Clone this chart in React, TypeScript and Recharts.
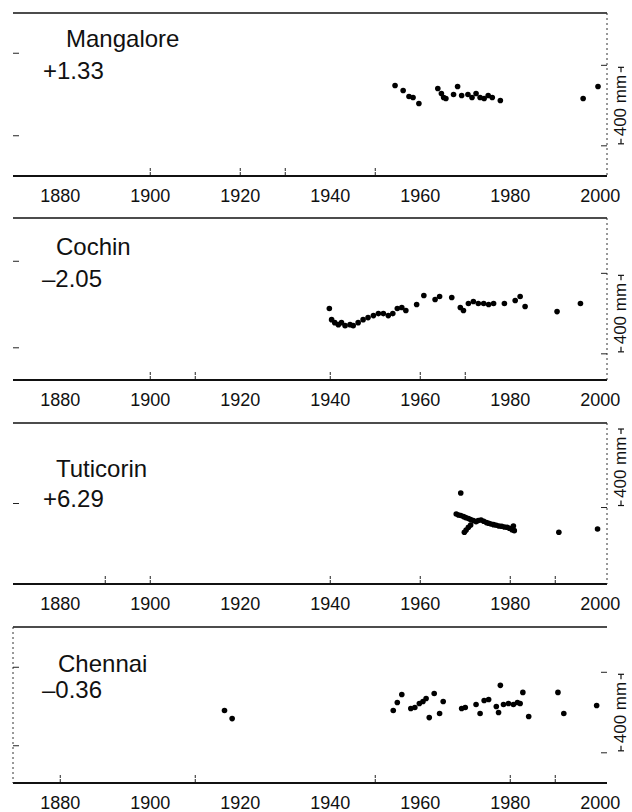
import { ReferenceLine, Scatter, ScatterChart, XAxis, YAxis } from "recharts";

const FONT = '"Liberation Sans", Arial, Helvetica, sans-serif';
const W = 632;
const X_DOMAIN: [number, number] = [1869.5, 2001.5];
const yearTicks = [1880, 1900, 1920, 1940, 1960, 1980, 2000];

// annual mean sea level, mm (relative)
const mangaloreYears = [1954.4, 1956.2, 1957.5, 1958.4, 1959.7, 1963.9, 1964.7, 1965.2, 1965.7, 1967.4, 1968.3, 1969.2, 1970.6, 1971.5, 1972.4, 1973.3, 1974.2, 1975.1, 1976.0, 1977.8, 1996.2, 1999.5];
const mangaloreLevels = [450, 425, 395, 390, 360, 435, 410, 390, 385, 405, 445, 400, 405, 390, 410, 390, 385, 400, 390, 375, 385, 445];

const cochinYears = [1939.8, 1940.3, 1941.0, 1941.8, 1942.5, 1943.3, 1944.4, 1945.1, 1946.2, 1947.3, 1948.4, 1949.6, 1950.7, 1951.8, 1952.9, 1953.9, 1954.9, 1955.9, 1956.8, 1959.2, 1960.8, 1963.3, 1964.3, 1967.0, 1968.9, 1969.6, 1970.7, 1971.8, 1972.9, 1974.1, 1975.2, 1976.3, 1978.7, 1981.1, 1982.2, 1983.3, 1990.4, 1995.6];
const cochinLevels = [355, 300, 285, 275, 285, 270, 275, 270, 285, 300, 310, 320, 330, 330, 320, 330, 355, 360, 345, 375, 420, 400, 415, 410, 360, 345, 380, 390, 380, 380, 375, 380, 380, 395, 415, 365, 340, 380];

const tuticorinYears = [1968.0, 1968.5, 1969.0, 1969.6, 1970.1, 1970.7, 1971.2, 1971.8, 1972.4, 1972.9, 1973.5, 1974.1, 1974.7, 1975.2, 1975.7, 1976.3, 1976.9, 1977.5, 1978.1, 1978.7, 1979.3, 1979.8, 1980.4, 1980.9, 1980.7, 1969.8, 1970.2, 1970.7, 1971.2, 1969.0, 1990.8, 1999.4];
const tuticorinLevels = [348, 343, 340, 335, 330, 325, 320, 315, 310, 315, 318, 312, 305, 302, 298, 295, 292, 288, 287, 283, 282, 277, 270, 265, 288, 257, 268, 282, 293, 452, 257, 273];

const chennaiYears = [1916.5, 1918.2, 1954.0, 1954.9, 1955.9, 1957.9, 1958.8, 1959.8, 1960.6, 1961.3, 1962.0, 1963.1, 1964.3, 1965.1, 1969.2, 1970.0, 1972.4, 1973.3, 1974.2, 1975.2, 1976.9, 1977.4, 1977.8, 1978.5, 1979.6, 1980.7, 1981.6, 1982.2, 1982.8, 1984.1, 1990.6, 1991.9, 1999.2];
const chennaiLevels = [360, 320, 360, 400, 440, 370, 375, 395, 405, 420, 325, 445, 345, 405, 370, 375, 390, 345, 410, 415, 380, 350, 485, 390, 395, 390, 400, 395, 450, 330, 450, 345, 385];

const panels = [
  {
    name: "Mangalore", rate: "+1.33", years: mangaloreYears, levels: mangaloreLevels,
    top: 13, axis: 175, leftTicks: [200, 610], barLow: 150, rightTicks: [150, 550],
    axisMarks: [1900, 1920, 1930, 1950], leftBorder: false, rightBorder: true,
    titleX: 66, titleY: 47, rateX: 43, rateY: 79,
  },
  {
    name: "Cochin", rate: "–2.05", years: cochinYears, levels: cochinLevels,
    top: 218, axis: 379, leftTicks: [160, 590], barLow: 130, rightTicks: [130, 530],
    axisMarks: [1900, 1910, 1940, 1960, 1970], leftBorder: false, rightBorder: true,
    titleX: 56, titleY: 255, rateX: 42, rateY: 287,
  },
  {
    name: "Tuticorin", rate: "+6.29", years: tuticorinYears, levels: tuticorinLevels,
    top: 423, axis: 583, leftTicks: [400], barLow: 380, rightTicks: [380],
    axisMarks: [1890, 1900, 1940, 1960, 1980, 1990], leftBorder: false, rightBorder: true,
    titleX: 56, titleY: 477, rateX: 43, rateY: 507,
  },
  {
    name: "Chennai", rate: "–0.36", years: chennaiYears, levels: chennaiLevels,
    top: 627, axis: 782, leftTicks: [185, 575], barLow: 150, rightTicks: [150, 550],
    axisMarks: [1880, 1910, 1950, 1980, 1990], leftBorder: true, rightBorder: false,
    titleX: 58, titleY: 672, rateX: 42, rateY: 698,
  },
];

type PanelDef = (typeof panels)[number];

const blank = () => "";

const Dot = (props: any) => <circle cx={props.cx} cy={props.cy} r={2.8} fill="#000" />;
const NoDot = () => <g />;

function ScaleBar(props: any) {
  const vb = props.viewBox || {};
  const x = (vb.x ?? 0) + 14;
  const y0 = vb.y ?? 0;
  const h = vb.height ?? 0;
  const cy = y0 + h / 2;
  return (
    <g stroke="#111" strokeWidth={1.2}>
      <line x1={x - 3} x2={x + 3} y1={y0 + 2} y2={y0 + 2} />
      <line x1={x} x2={x} y1={y0 + 2} y2={y0 + 7} />
      <line x1={x - 3} x2={x + 3} y1={y0 + h - 2} y2={y0 + h - 2} />
      <line x1={x} x2={x} y1={y0 + h - 2} y2={y0 + h - 7} />
      <text
        x={x}
        y={cy}
        transform={`rotate(-90 ${x} ${cy})`}
        textAnchor="middle"
        dominantBaseline="central"
        fontSize={17}
        fontFamily={FONT}
        fill="#111"
        stroke="none"
      >
        400 mm
      </text>
    </g>
  );
}

function Panel({ p }: { p: PanelDef }) {
  const MT = 10;
  const plotH = p.axis - p.top;
  const chartH = MT + plotH + 33;
  const yMax = plotH * 5;
  const data = p.years.map((year, i) => ({ year, level: p.levels[i] }));
  const dotted = { stroke: "#333", strokeWidth: 1, strokeDasharray: "2 3" };

  return (
    <div style={{ position: "absolute", left: 0, top: p.top - MT, width: W, height: chartH }}>
      <ScatterChart width={W} height={chartH} margin={{ top: MT, right: 25, bottom: 0, left: 13 }}>
        <XAxis
          xAxisId="marks"
          type="number"
          dataKey="year"
          domain={X_DOMAIN}
          ticks={p.axisMarks}
          mirror
          tickFormatter={blank}
          tickSize={8}
          tickLine={{ stroke: "#222", strokeDasharray: "3 1" }}
          axisLine={false}
          height={1}
        />
        <XAxis
          xAxisId="main"
          type="number"
          dataKey="year"
          domain={X_DOMAIN}
          ticks={yearTicks}
          tickLine={false}
          tickSize={0}
          tickMargin={13}
          axisLine={{ stroke: "#111", strokeWidth: 1.8 }}
          tick={{ fontSize: 18, fill: "#111", fontFamily: FONT }}
          height={32}
        />
        <YAxis
          yAxisId="l"
          type="number"
          dataKey="level"
          domain={[0, yMax]}
          ticks={p.leftTicks}
          width={1}
          mirror
          tickFormatter={blank}
          tickSize={6}
          tickLine={{ stroke: "#222" }}
          axisLine={p.leftBorder ? dotted : false}
        />
        <YAxis
          yAxisId="r"
          orientation="right"
          type="number"
          dataKey="level"
          domain={[0, yMax]}
          ticks={p.rightTicks}
          width={1}
          mirror
          tickFormatter={blank}
          tickSize={6}
          tickLine={{ stroke: "#222" }}
          axisLine={p.rightBorder ? dotted : false}
        />
        <ReferenceLine xAxisId="main" yAxisId="l" y={yMax} stroke="#111" strokeWidth={1.4} ifOverflow="visible" />
        <ReferenceLine
          xAxisId="main"
          yAxisId="l"
          segment={[
            { x: X_DOMAIN[1], y: p.barLow },
            { x: X_DOMAIN[1], y: p.barLow + 400 },
          ]}
          stroke="none"
          ifOverflow="visible"
          label={<ScaleBar />}
        />
        <Scatter
          xAxisId="marks"
          yAxisId="r"
          data={data}
          dataKey="level"
          shape={NoDot}
          isAnimationActive={false}
        />
        <Scatter
          xAxisId="main"
          yAxisId="l"
          data={data}
          dataKey="level"
          shape={Dot}
          isAnimationActive={false}
        />
      </ScatterChart>
    </div>
  );
}

export default function App() {
  return (
    <div style={{ position: "relative", width: W, height: 812, background: "#fff", overflow: "hidden" }}>
      <style>{"body{margin:0}"}</style>
      {panels.map((p) => (
        <Panel key={p.name} p={p} />
      ))}
      <svg
        width={W}
        height={812}
        style={{ position: "absolute", left: 0, top: 0, pointerEvents: "none" }}
      >
        {panels.map((p) => (
          <g key={p.name} fontFamily={FONT} fill="#111" fontSize={24}>
            <text x={p.titleX} y={p.titleY}>{p.name}</text>
            <text x={p.rateX} y={p.rateY}>{p.rate}</text>
          </g>
        ))}
      </svg>
    </div>
  );
}
